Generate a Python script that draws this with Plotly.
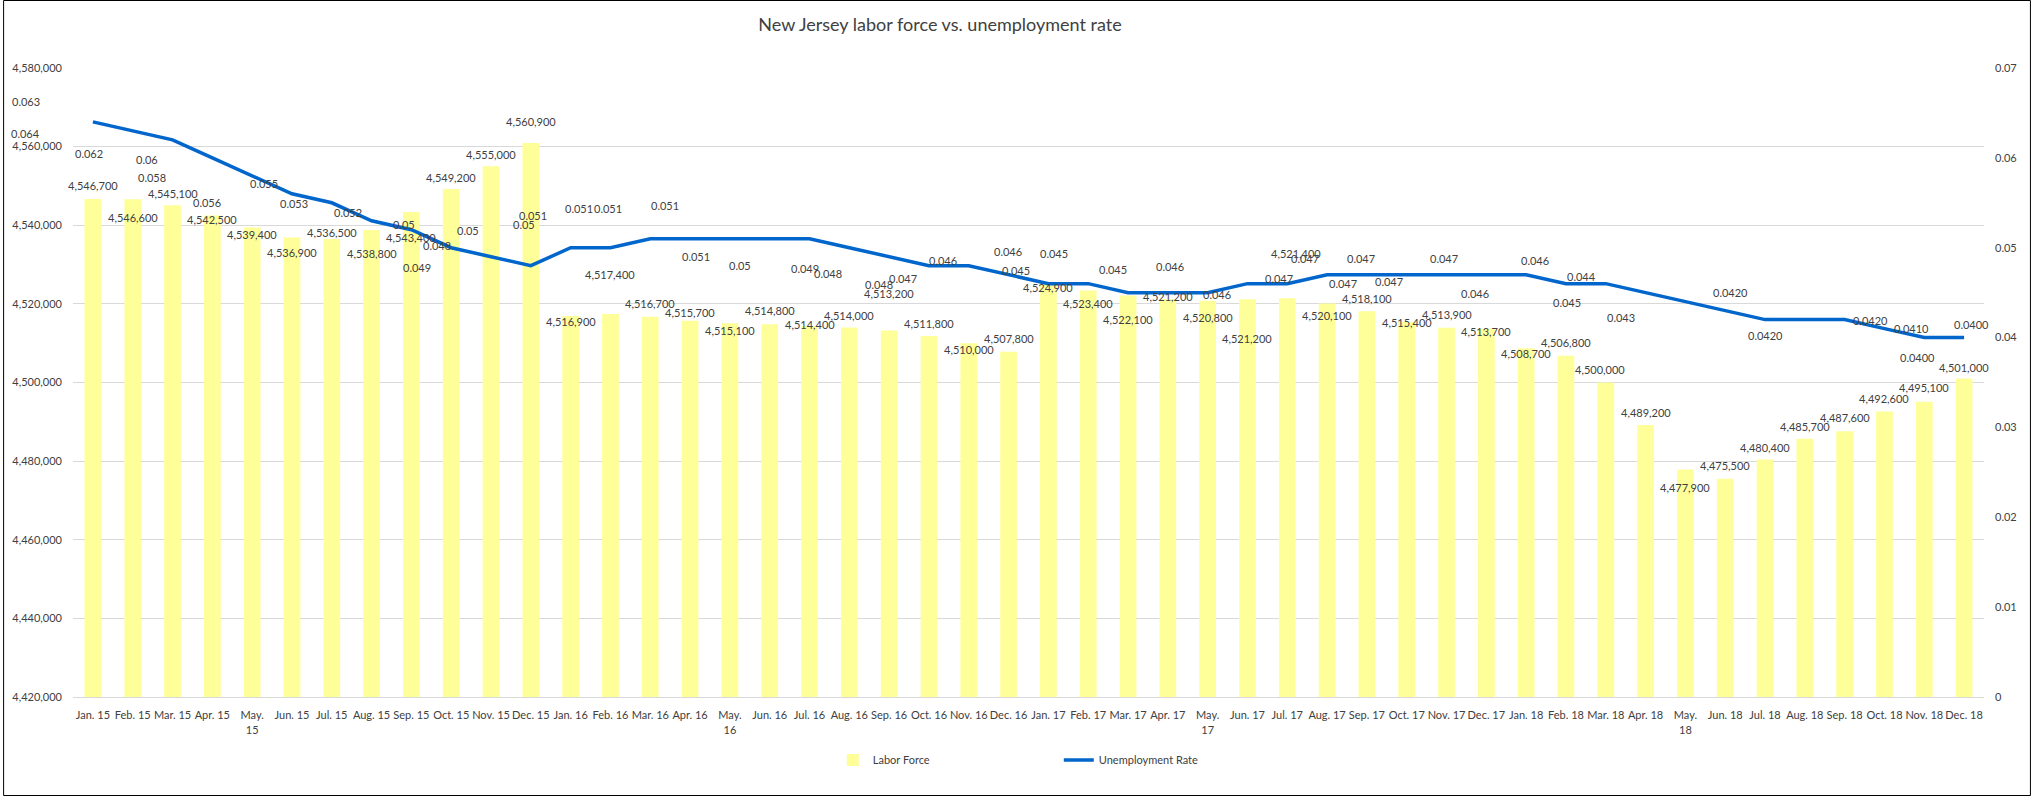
import plotly.graph_objects as go

months = ["Jan. 15", "Feb. 15", "Mar. 15", "Apr. 15", "May. 15", "Jun. 15", "Jul. 15", "Aug. 15",
          "Sep. 15", "Oct. 15", "Nov. 15", "Dec. 15",
          "Jan. 16", "Feb. 16", "Mar. 16", "Apr. 16", "May. 16", "Jun. 16", "Jul. 16", "Aug. 16",
          "Sep. 16", "Oct. 16", "Nov. 16", "Dec. 16",
          "Jan. 17", "Feb. 17", "Mar. 17", "Apr. 17", "May. 17", "Jun. 17", "Jul. 17", "Aug. 17",
          "Sep. 17", "Oct. 17", "Nov. 17", "Dec. 17",
          "Jan. 18", "Feb. 18", "Mar. 18", "Apr. 18", "May. 18", "Jun. 18", "Jul. 18", "Aug. 18",
          "Sep. 18", "Oct. 18", "Nov. 18", "Dec. 18"]

tick_labels = [m.replace("May. ", "May.<br>") for m in months]

labor_force = [4546700, 4546600, 4545100, 4542500, 4539400, 4536900, 4536500, 4538800,
               4543400, 4549200, 4555000, 4560900,
               4516900, 4517400, 4516700, 4515700, 4515100, 4514800, 4514400, 4514000,
               4513200, 4511800, 4510000, 4507800,
               4524900, 4523400, 4522100, 4521200, 4520800, 4521200, 4521400, 4520100,
               4518100, 4515400, 4513900, 4513700,
               4508700, 4506800, 4500000, 4489200, 4477900, 4475500, 4480400, 4485700,
               4487600, 4492600, 4495100, 4501000]

unemployment = [0.064, 0.063, 0.062, 0.060, 0.058, 0.056, 0.055, 0.053, 0.052, 0.050, 0.049, 0.048,
                0.050, 0.050, 0.051, 0.051, 0.051, 0.051, 0.051, 0.050, 0.049, 0.048, 0.048, 0.047,
                0.046, 0.046, 0.045, 0.045, 0.045, 0.046, 0.046, 0.047, 0.047, 0.047, 0.047, 0.047,
                0.047, 0.046, 0.046, 0.045, 0.044, 0.043, 0.042, 0.042, 0.042, 0.041, 0.040, 0.040]

rate_labels = ["0.064", "0.063", "0.062", "0.06", "0.058", "0.056", "0.055", "0.053", "0.052", "0.05",
               "0.049", "0.048", "0.05", "0.05", "0.051", "0.051", "0.051", "0.051", "0.051", "0.05",
               "0.049", "0.048", "0.048", "0.047", "0.046", "0.046", "0.045", "0.045", "0.045", "0.046",
               "0.046", "0.047", "0.047", "0.047", "0.047", "0.047", "0.047", "0.046", "0.046", "0.045",
               "0.044", "0.043", "0.0420", "0.0420", "0.0420", "0.0410", "0.0400", "0.0400"]

# label layout offsets in pixels (dx right, dy down) relative to each mark
bar_label_dx = [0] * 48
bar_label_dx[30] = 9
bar_label_dx[38] = -6
bar_label_dy = [-13, 18, -12, 4, 7, 15, -7, 24, 26, -12, -12, -22,
                5, -40, -13, -8, 7, -14, -1, -12, -37, -13, 6, -13,
                3, 13, 24, -3, 17, 39, -45, 12, -13, 1, -13, 3,
                5, -13, -13, -12, 18, -13, -12, -12, -14, -13, -14, -11]
rate_label_dx = [-67, -107, -84, -65, -100, -85, -68, -78, -63, -47, -74, -94,
                 -103, -86, -117, -111, -122, -105, -114, -109, -84, -101, -90, -106,
                 -105, -80, -112, -114, -95, -77, -70, -48, -62, -64, -86, -97,
                 -82, -91, -71, -79, -104, -104, -35, -39, 26, 27, -7, 7]
rate_label_dy = [12, -29, 14, 2, 2, 9, -19, -17, -17, -23, 11, -20,
                 -17, -23, -23, -30, -30, -33, 18, 18, 12, 8, 19, 4,
                 -23, -32, -22, -39, -23, -17, 11, 4, -16, 9, -16, 7,
                 -16, 10, -23, 10, -25, 7, -27, 16, 1, 0, 20, -13]

FONT = "Lato, 'Open Sans', sans-serif"
TXT = "#404040"
W, H = 2031, 796
ML, MR, MT, MB = 70, 47, 68, 99
PW, PH = W - ML - MR, H - MT - MB

fig = go.Figure()
fig.add_trace(go.Bar(x=months, y=labor_force, name="Labor Force",
                     marker=dict(color="#FFFF99", line=dict(width=0)), yaxis="y"))
fig.add_trace(go.Scatter(x=months, y=unemployment, name="Unemployment Rate", mode="lines",
                         line=dict(color="#0066CC", width=3.5), yaxis="y2"))

annotations = []
for i, m in enumerate(months):
    annotations.append(dict(x=m, y=labor_force[i], xref="x", yref="y",
                            text=f"{labor_force[i]:,}", showarrow=False,
                            xshift=bar_label_dx[i], yshift=-bar_label_dy[i],
                            font=dict(family=FONT, size=11, color=TXT)))
for i, m in enumerate(months):
    annotations.append(dict(x=m, y=unemployment[i], xref="x", yref="y2",
                            text=rate_labels[i], showarrow=False,
                            xshift=rate_label_dx[i], yshift=-rate_label_dy[i],
                            font=dict(family=FONT, size=11, color=TXT)))

fig.update_layout(
    width=W, height=H, autosize=False,
    margin=dict(l=ML, r=MR, t=MT, b=MB, pad=0),
    paper_bgcolor="white", plot_bgcolor="white",
    font=dict(family=FONT, size=11, color=TXT),
    title=dict(text="New Jersey labor force vs. unemployment rate",
               x=940 / W, xref="container", xanchor="center",
               y=1 - 25 / H, yref="container", yanchor="middle",
               font=dict(family=FONT, size=18, color=TXT)),
    bargap=0.58,
    showlegend=True,
    legend=dict(orientation="h", x=(831 - ML) / PW, xanchor="left",
                y=(697 - 760) / PH, yanchor="middle",
                font=dict(family=FONT, size=11, color=TXT),
                entrywidth=181, entrywidthmode="pixels", bgcolor="rgba(0,0,0,0)"),
    xaxis=dict(type="category", tickvals=months, ticktext=tick_labels,
               range=[-0.5, len(months) - 0.5], autorange=False,
               showgrid=False, showline=True, linecolor="#D9D9D9", linewidth=1,
               ticks="", ticklabelstandoff=8,
               tickfont=dict(family=FONT, size=11, color=TXT), tickangle=0),
    yaxis=dict(range=[4420000, 4580000], dtick=20000, tickformat=",",
               showgrid=True, gridcolor="#D9D9D9", gridwidth=1, zeroline=False,
               showline=False, ticks="", ticklabelstandoff=10,
               tickfont=dict(family=FONT, size=11, color=TXT)),
    yaxis2=dict(range=[0, 0.07], dtick=0.01, overlaying="y", side="right",
                showgrid=False, zeroline=False, showline=False, ticks="",
                ticklabelstandoff=10,
                tickfont=dict(family=FONT, size=11, color=TXT)),
    annotations=annotations,
    shapes=[dict(type="rect", xref="paper", yref="paper",
                 x0=(0.5 - ML) / PW, x1=(W - 0.5 - ML) / PW,
                 y0=(MT + PH - (H - 0.5)) / PH, y1=(MT + PH - 0.5) / PH,
                 line=dict(color="black", width=1), fillcolor="rgba(0,0,0,0)", layer="above")],
)

fig.write_html("out.html")
